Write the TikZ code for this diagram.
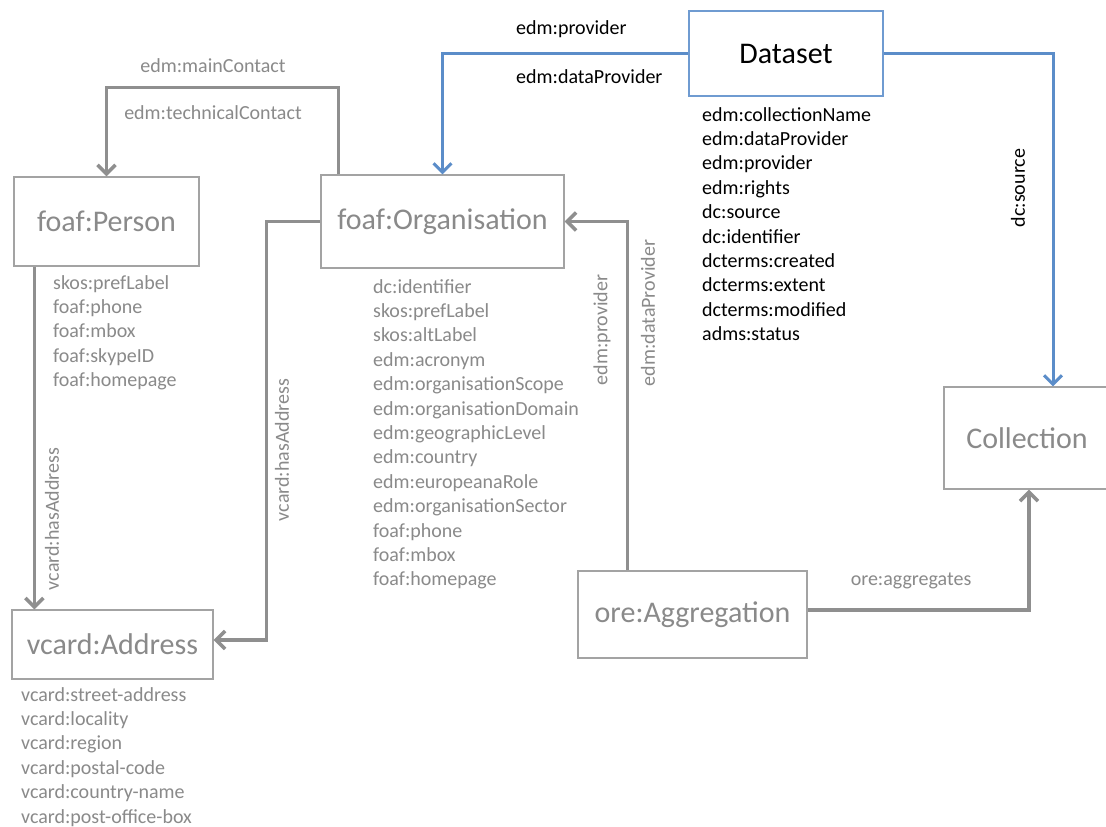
\documentclass[tikz,border=0pt]{standalone}
\usepackage{fontspec}
\setmainfont{Carlito}
\usetikzlibrary{arrows.meta}
\definecolor{gtext}{HTML}{8A8A8A}
\definecolor{boxgray}{HTML}{A3A3A3}
\definecolor{linegray}{HTML}{8F8F8F}
\definecolor{bline}{HTML}{5B8DC9}
\definecolor{bbox}{HTML}{6F9BD1}
\begin{document}
\begin{tikzpicture}[x=1pt,y=-1pt,
  box/.style={draw=boxgray, line width=1.2pt, inner sep=0pt, text=gtext,
    font=\fontsize{30}{36}\selectfont},
  attr/.style={align=left, anchor=base west, inner sep=0pt, text=gtext,
    font=\fontsize{20}{24.4}\selectfont},
  lab/.style={inner sep=0pt, text=gtext, font=\fontsize{20}{24}\selectfont},
  garrow/.style={draw=linegray, line width=3.5pt,
    -{Straight Barb[length=9pt,width=18pt]}},
  barrow/.style={draw=bline, line width=3pt,
    -{Straight Barb[length=9pt,width=18pt]}}
]
\useasboundingbox[fill=white] (0,0) rectangle (1106,827);

% boxes
\node[box, draw=bbox, text=black, minimum width=194pt, minimum height=85pt] (dataset) at (786,53.5) {Dataset};
\node[box, minimum width=185pt, minimum height=89pt] (person) at (106.5,221.5) {foaf:Person};
\node[box, minimum width=243pt, minimum height=93pt] (org) at (442.5,221.5) {foaf:Organisation};
\node[box, minimum width=201pt, minimum height=69pt] (address) at (112.5,644.5) {vcard:Address};
\node[box, minimum width=229pt, minimum height=87pt] (agg) at (692.5,614.5) {ore:Aggregation};
\node[box, minimum width=166pt, minimum height=102pt] (collection) at (1027,438) {Collection};

% attribute lists (anchor = baseline of last line)
\node[attr, text=black] (dsattr) at (702,340.6) {edm:collectionName\\edm:dataProvider\\edm:provider\\edm:rights\\dc:source\\dc:identifier\\dcterms:created\\dcterms:extent\\dcterms:modified\\adms:status};
\node[attr] (personattr) at (53,386.6) {skos:prefLabel\\foaf:phone\\foaf:mbox\\foaf:skypeID\\foaf:homepage};
\node[attr] (orgattr) at (373,585.8) {dc:identifier\\skos:prefLabel\\skos:altLabel\\edm:acronym\\edm:organisationScope\\edm:organisationDomain\\edm:geographicLevel\\edm:country\\edm:europeanaRole\\edm:organisationSector\\foaf:phone\\foaf:mbox\\foaf:homepage};
\node[attr] (addrattr) at (21,823) {vcard:street-address\\vcard:locality\\vcard:region\\vcard:postal-code\\vcard:country-name\\vcard:post-office-box};

% connectors
\draw[garrow] ([xshift=18pt]org.north west) -- ++(0,-87) -| (person.north);
\draw[garrow] (org.west) -- ++(-54,0) |- ([yshift=4.5pt]address.east);
\draw[garrow] ([xshift=21pt]person.south west) -- ([xshift=23pt]address.north west);
\draw[barrow] (dataset.west) -| (org.north);
\draw[barrow] (dataset.east) -| ([xshift=26pt]collection.north);
\draw[garrow] ([xshift=50pt]agg.north west) |- (org.east);
\draw[garrow] ([yshift=4.5pt]agg.east) -| ([xshift=2pt]collection.south);

% connector labels
\node[lab] (lmain) at (213,66) {edm:mainContact};
\node[lab] (ltech) at (213,113) {edm:technicalContact};
\node[lab, rotate=90] (lhas1) at (52,519) {vcard:hasAddress};
\node[lab, rotate=90] (lhas2) at (282,450) {vcard:hasAddress};
\node[lab, text=black, anchor=west] (lprov) at (516,29) {edm:provider};
\node[lab, text=black, anchor=west] (ldprov) at (516,77) {edm:dataProvider};
\node[lab, text=black, rotate=90] (lsrc) at (1018,188) {dc:source};
\node[lab, rotate=90] (laprov) at (602,330) {edm:provider};
\node[lab, rotate=90] (ladprov) at (648,313) {edm:dataProvider};
\node[lab] (lagg) at (911,581) {ore:aggregates};
\end{tikzpicture}
\end{document}
